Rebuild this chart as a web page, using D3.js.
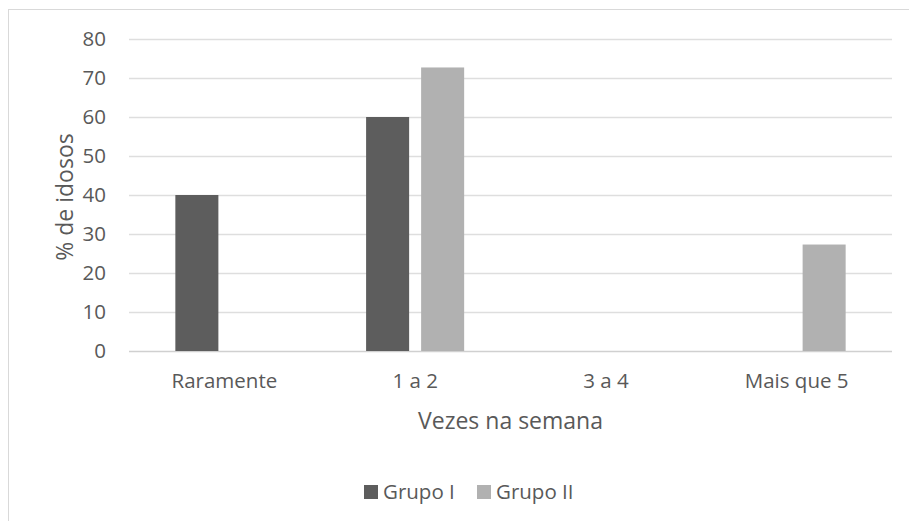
<!DOCTYPE html>
<html>
<head>
<meta charset="utf-8">
<script src="https://cdn.jsdelivr.net/npm/d3@7"></script>
<style>
body { margin: 0; background: #fff; }
text { font-family: "Open Sans", sans-serif; fill: #595959; }
</style>
</head>
<body>
<script>
var categories = ['Raramente', '1 a 2', '3 a 4', 'Mais que 5'];
var series = ['Grupo I', 'Grupo II'];
var grupo1 = [40, 60, 0, 0];
var grupo2 = [0, 72.7, 0, 27.3];
var yTicks = [0, 10, 20, 30, 40, 50, 60, 70, 80];
var colors = ['#5d5d5d', '#b1b1b1'];

var W = 909, H = 521;
var svg = d3.select('body').append('svg').attr('width', W).attr('height', H);

// chart border
svg.append('rect')
	.attr('x', 8.5).attr('y', 9.5)
	.attr('width', W + 10).attr('height', H + 10)
	.style('fill', 'none').style('stroke', '#d9d9d9').style('stroke-width', 1);

var pLeft = 129, pRight = 892, pTop = 39, pBottom = 351;

var y = d3.scaleLinear().domain([0, 80]).range([pBottom, pTop]);
var x0 = d3.scaleBand().domain(categories).range([pLeft, pRight]).paddingInner(0.486).paddingOuter(0.243);
var x1 = d3.scaleBand().domain(series).range([0, x0.bandwidth()]).paddingInner(0.218);

// gridlines
svg.selectAll('.grid').data(yTicks).enter().append('line')
	.attr('x1', pLeft).attr('x2', pRight)
	.attr('y1', function(d){ return y(d) + 0.5; })
	.attr('y2', function(d){ return y(d) + 0.5; })
	.style('stroke', function(d){ return d === 0 ? '#d0d0d0' : '#dedede'; })
	.style('stroke-width', 1.3);

// y tick labels
svg.selectAll('.ytick').data(yTicks).enter().append('text')
	.attr('x', 106).attr('y', function(d){ return y(d); })
	.attr('dy', '0.36em')
	.attr('text-anchor', 'end')
	.style('font-size', '20.5px')
	.text(function(d){ return d; });

// bars
var vals = [grupo1, grupo2];
categories.forEach(function(c, i){
	series.forEach(function(s, j){
		var v = vals[j][i];
		if (!v) return;
		svg.append('rect')
			.attr('x', x0(c) + x1(s))
			.attr('y', y(v))
			.attr('width', x1.bandwidth())
			.attr('height', y(0) - y(v))
			.style('fill', colors[j]);
	});
});

// category labels
svg.selectAll('.xlab').data(categories).enter().append('text')
	.attr('x', function(d){ return x0(d) + x0.bandwidth() / 2; })
	.attr('y', 388)
	.attr('text-anchor', 'middle')
	.style('font-size', '20.5px')
	.text(function(d){ return d; });

// axis titles
svg.append('text')
	.attr('x', (pLeft + pRight) / 2).attr('y', 429)
	.attr('text-anchor', 'middle')
	.style('font-size', '23px')
	.text('Vezes na semana');

svg.append('text')
	.attr('transform', 'translate(73,197) rotate(-90)')
	.attr('text-anchor', 'middle')
	.style('font-size', '23px')
	.text('% de idosos');

// legend
var legX = [364, 477];
series.forEach(function(s, j){
	svg.append('rect')
		.attr('x', legX[j]).attr('y', 485)
		.attr('width', 14).attr('height', 14)
		.style('fill', colors[j]);
	svg.append('text')
		.attr('x', legX[j] + 19).attr('y', 499)
		.style('font-size', '20.5px')
		.text(s);
});
</script>
</body>
</html>
